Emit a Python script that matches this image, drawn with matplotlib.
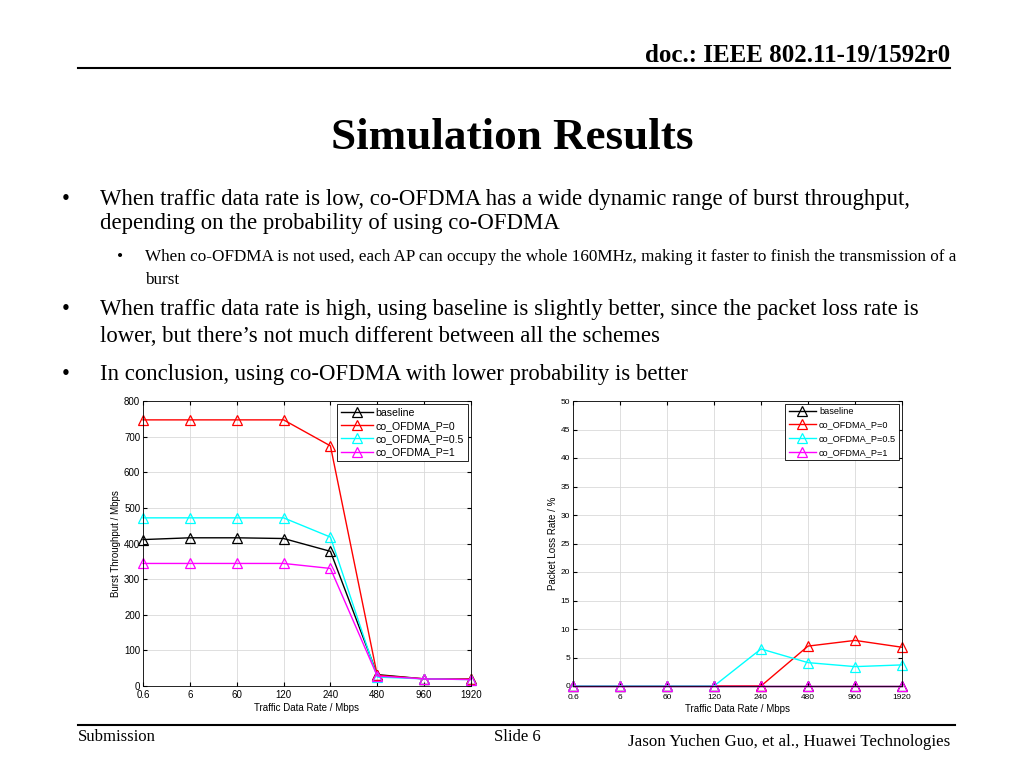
import numpy as np
import matplotlib
matplotlib.use('Agg')
import matplotlib.pyplot as plt
from matplotlib.lines import Line2D

# data
rates = ['0.6', '6', '60', '120', '240', '480', '960', '1920']
series_names = ['baseline', 'co_OFDMA_P=0', 'co_OFDMA_P=0.5', 'co_OFDMA_P=1']
series_colors = ['black', 'red', 'cyan', 'magenta']

tput_baseline = [411, 416, 416, 414, 378, 32, 20, 20]
tput_p0 = [747, 747, 747, 747, 674, 30, 20, 20]
tput_p05 = [472, 472, 472, 472, 418, 25, 20, 18]
tput_p1 = [344, 344, 344, 344, 330, 28, 20, 18]

loss_baseline = [0, 0, 0, 0, 0, 0, 0, 0]
loss_p0 = [0, 0, 0, 0, 0, 7.0, 8.0, 6.8]
loss_p05 = [0, 0, 0, 0, 6.5, 4.1, 3.4, 3.7]
loss_p1 = [0, 0, 0, 0, 0, 0, 0, 0]

W, H = 1024, 768
fig = plt.figure(figsize=(W / 100, H / 100), dpi=100)
serif = 'Liberation Serif'
sans = 'Liberation Sans'


def px(x, y):
    return x / W, 1 - y / H


# header and footer
fig.text(*px(950, 55), 'doc.: IEEE 802.11-19/1592r0', ha='right', va='center',
         family=serif, fontsize=18, fontweight='bold')
fig.add_artist(Line2D([78 / W, 950 / W], [1 - 68 / H] * 2, color='black', lw=1.5))
fig.add_artist(Line2D([78 / W, 955 / W], [1 - 725 / H] * 2, color='black', lw=1.5))
fig.text(*px(78, 737), 'Submission', ha='left', va='center', family=serif, fontsize=12)
fig.text(*px(517, 737), 'Slide 6', ha='center', va='center', family=serif, fontsize=12)
fig.text(*px(950, 742), 'Jason Yuchen Guo, et al., Huawei Technologies', ha='right',
         va='center', family=serif, fontsize=12.2)

fig.text(*px(512, 138), 'Simulation Results', ha='center', va='center',
         family=serif, fontsize=32.5, fontweight='bold')

# bullets
main_fs = 16.4
sub_fs = 12.3
bullets = [
    (62, 100, 200, 'When traffic data rate is low, co-OFDMA has a wide dynamic range of burst throughput,', True),
    (None, 100, 224, 'depending on the probability of using co-OFDMA', True),
    (117, 145, 257, 'When co-OFDMA is not used, each AP can occupy the whole 160MHz, making it faster to finish the transmission of a', False),
    (None, 145, 280, 'burst', False),
    (62, 100, 310, 'When traffic data rate is high, using baseline is slightly better, since the packet loss rate is', True),
    (None, 100, 336, 'lower, but there\u2019s not much different between all the schemes', True),
    (62, 100, 374, 'In conclusion, using co-OFDMA with lower probability is better', True),
]
for bx, tx, y, txt, main in bullets:
    fs = main_fs if main else sub_fs
    if bx is not None:
        fig.text(*px(bx, y), '\u2022', ha='left', va='center', family=serif, fontsize=fs)
    fig.text(*px(tx, y), txt, ha='left', va='center', family=serif, fontsize=fs)


def make_axes(left, right, top, bottom):
    return fig.add_axes([left / W, 1 - bottom / H, (right - left) / W, (bottom - top) / H])


def style(ax, ylim, ystep, ylabel, fs, xpad):
    x = np.arange(len(rates))
    ax.set_xlim(0, len(rates) - 1)
    ax.set_ylim(*ylim)
    ax.set_xticks(x)
    ax.set_xticklabels(rates)
    ax.set_yticks(np.arange(ylim[0], ylim[1] + ystep / 2, ystep))
    ax.grid(True, color='#d9d9d9', lw=0.6)
    ax.tick_params(direction='in', top=True, right=True, labelsize=fs, length=3, pad=2)
    ax.tick_params(axis='x', pad=xpad)
    for lab in ax.get_xticklabels() + ax.get_yticklabels():
        lab.set_family(sans)
    ax.set_xlabel('Traffic Data Rate / Mbps', family=sans, fontsize=7, labelpad=2)
    ax.set_ylabel(ylabel, family=sans, fontsize=7, labelpad=2)
    for s in ax.spines.values():
        s.set_linewidth(0.6)


def draw(ax, data, legend_fs, spacing):
    x = np.arange(len(rates))
    for vals, name, c in zip(data, series_names, series_colors):
        ax.plot(x, vals, color=c, lw=1.0, marker='^', markersize=6.5,
                markerfacecolor='none', markeredgecolor=c, markeredgewidth=0.9,
                label=name, clip_on=False)
    leg = ax.legend(loc='upper right', prop={'family': sans, 'size': legend_fs},
                    fancybox=False, edgecolor='black', framealpha=1,
                    borderpad=0.35, labelspacing=spacing, handlelength=3.0,
                    handletextpad=0.3, borderaxespad=0.3)
    leg.get_frame().set_linewidth(0.6)


ax1 = make_axes(143, 471, 401, 686)
draw(ax1, [tput_baseline, tput_p0, tput_p05, tput_p1], 7.6, 0.3)
style(ax1, (0, 800), 100, 'Burst Throughput / Mbps', 7, 3)

ax2 = make_axes(573, 902, 401, 686)
draw(ax2, [loss_baseline, loss_p0, loss_p05, loss_p1], 6.6, 0.5)
style(ax2, (0, 50), 5, 'Packet Loss Rate / %', 6, 6)

fig.savefig('out.png', dpi=100)
